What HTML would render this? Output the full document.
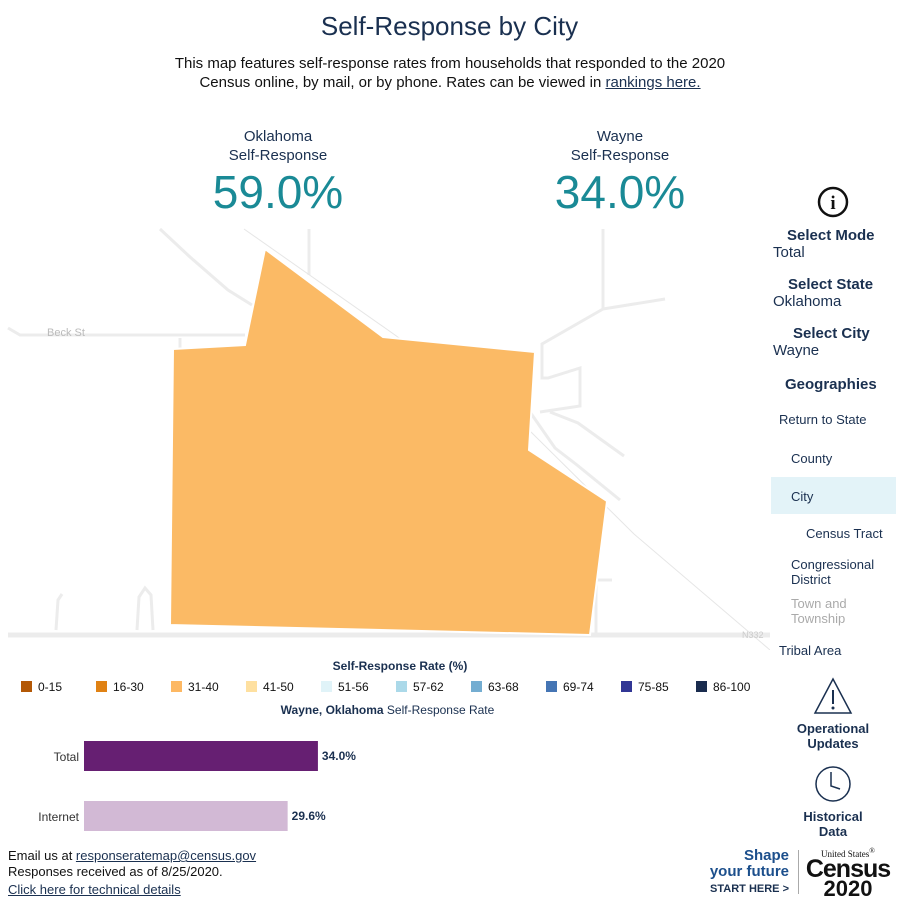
<!DOCTYPE html>
<html><head><meta charset="utf-8"><style>
body{margin:0;width:899px;height:899px;background:#fff;font-family:"Liberation Sans",sans-serif;color:#1a3050;position:relative;overflow:hidden}
.a{position:absolute}
.t{text-align:center}
u{text-decoration:underline}
.side{position:absolute;left:773px;font-size:15px}
.sb{font-weight:bold;font-size:15px}
.geo{position:absolute;font-size:13px}
</style></head><body>
<div class="a t" style="left:0;width:899px;top:11px;font-size:26px">Self-Response by City</div>
<div class="a t" style="left:100px;width:700px;top:54px;font-size:15px;line-height:19px;color:#111">This map features self-response rates from households that responded to the 2020<br>Census online, by mail, or by phone. Rates can be viewed in <u style="color:#1a3050">rankings here.</u></div>
<div class="a t" style="left:178px;width:200px;top:127px;font-size:15px;line-height:19px">Oklahoma<br>Self-Response</div>
<div class="a t" style="left:178px;width:200px;top:165px;font-size:46px;color:#1a8a96">59.0%</div>
<div class="a t" style="left:520px;width:200px;top:127px;font-size:15px;line-height:19px">Wayne<br>Self-Response</div>
<div class="a t" style="left:520px;width:200px;top:165px;font-size:46px;color:#1a8a96">34.0%</div>

<svg class="a" style="left:0;top:220px" width="770" height="430" viewBox="0 220 770 430">
<g fill="none" stroke="#ececec" stroke-width="3">
<polyline points="8,328 20,335 245,335"/>
<polyline points="160,229 190,257 228,290 252,305"/>
<line x1="309" y1="229" x2="309" y2="275"/>
<polyline points="603,229 603,309 665,299"/>
<polyline points="603,309 542,344 542,378 548,378 580,368 580,406 540,412"/>
<polyline points="550,412 578,423 624,456"/>
<polyline points="530,412 555,448 577,465 620,500"/>
<line x1="180" y1="350" x2="180" y2="338"/>
<line x1="8" y1="635" x2="770" y2="635" stroke-width="5"/>
<polyline points="56,630 58,600 62,594"/>
<polyline points="137,630 139,597 145,588 151,595 153,630"/>
<line x1="596" y1="580" x2="596" y2="635"/>
<line x1="596" y1="580" x2="612" y2="580"/>
</g>
<polyline points="244,229 395,335 531,432 634,534 770,650" fill="none" stroke="#e6e6e6" stroke-width="1"/>
<text x="47" y="336" font-size="11" fill="#bbb" font-family="Liberation Sans">Beck St</text>
<text x="742" y="638" font-size="9" fill="#ccc" font-family="Liberation Sans">N332</text>
<polygon points="265,249 383,337 535,352 529,450 607,501 590,635 170,625 173,349 245,345" fill="#fbba65" stroke="#fff" stroke-width="2"/>
</svg>

<svg class="a" style="left:817px;top:186px" width="32" height="32"><circle cx="16" cy="16" r="14" fill="none" stroke="#111" stroke-width="2.5"/><text x="16" y="23" text-anchor="middle" font-size="19" font-weight="bold" font-family="Liberation Serif" fill="#111">i</text></svg>
<div class="side" style="top:227px"><div class="sb" style="padding-left:14px">Select Mode</div><div>Total</div></div>
<div class="side" style="top:276px"><div class="sb" style="padding-left:15px">Select State</div><div>Oklahoma</div></div>
<div class="side" style="top:325px"><div class="sb" style="padding-left:20px">Select City</div><div>Wayne</div></div>
<div class="side sb" style="top:376px;left:785px">Geographies</div>
<div class="geo" style="left:779px;top:412px">Return to State</div>
<div class="geo" style="left:791px;top:451px">County</div>
<div class="a" style="left:771px;top:477px;width:125px;height:37px;background:#e3f3f8"></div>
<div class="geo" style="left:791px;top:489px">City</div>
<div class="geo" style="left:806px;top:526px">Census Tract</div>
<div class="geo" style="left:791px;top:557px;line-height:15px">Congressional<br>District</div>
<div class="geo" style="left:791px;top:596px;line-height:15px;color:#aaa">Town and<br>Township</div>
<div class="geo" style="left:779px;top:643px">Tribal Area</div>
<svg class="a" style="left:812px;top:676px" width="42" height="40"><polygon points="21,3 39,37 3,37" fill="none" stroke="#1a3050" stroke-width="1.5"/><line x1="21" y1="14" x2="21" y2="28" stroke="#1a3050" stroke-width="2"/><circle cx="21" cy="32" r="1.5" fill="#1a3050"/></svg>
<div class="a t sb" style="left:783px;width:100px;top:721px;font-size:13px;line-height:15px">Operational<br>Updates</div>
<svg class="a" style="left:813px;top:764px" width="40" height="40"><circle cx="20" cy="20" r="17" fill="none" stroke="#1a3050" stroke-width="1.5"/><polyline points="18,8 18,22 27,25" fill="none" stroke="#1a3050" stroke-width="1.5"/></svg>
<div class="a t sb" style="left:783px;width:100px;top:809px;font-size:13px;line-height:15px">Historical<br>Data</div>
<div class="a" style="left:708px;top:848px;text-align:right;width:81px;font-weight:bold;color:#1c4f8c;font-size:15px;line-height:16px">Shape<br>your future<br><span style="font-size:11px;color:#1a3050">START HERE &gt;</span></div>
<div class="a" style="left:798px;top:850px;width:1px;height:44px;background:#aaa"></div>
<div class="a t" style="left:805px;top:847px;width:86px;color:#111;line-height:1"><div style="font-family:'Liberation Serif';font-size:9px">United States<sup>®</sup></div><div style="font-weight:bold;font-size:25px;letter-spacing:-1px;margin-top:-2px">Census</div><div style="font-weight:bold;font-size:22px;margin-top:-4px">2020</div></div>

<div class="a t" style="left:270px;width:260px;top:659px;font-size:12px;font-weight:bold">Self-Response Rate (%)</div>
<div id="legend"></div>
<div class="a t" style="left:230px;width:315px;top:703px;font-size:12px"><b>Wayne, Oklahoma</b> Self-Response Rate</div>
<svg id="bars" class="a" style="left:0;top:730px" width="450" height="110"></svg>

<div class="a" style="left:8px;top:848px;font-size:13px;line-height:16px;color:#111">Email us at <u style="color:#1a3050">responseratemap@census.gov</u><br>Responses received as of 8/25/2020.<br><div style="margin-top:2px"><u style="color:#1a3050">Click here for technical details</u></div></div>

<script>
const legendLabels=["0-15","16-30","31-40","41-50","51-56","57-62","63-68","69-74","75-85","86-100"];
const legendColors=["#b35806","#e08214","#fdb863","#fee0a0","#e0f3f8","#abd9e9","#74add1","#4575b4","#313695","#1a2c4e"];
const barCategories=["Total","Internet"];
const barValues=[34.0,29.6];
const barColors=["#661f72","#d2b9d5"];
const lg=document.getElementById('legend');
legendLabels.forEach((l,i)=>{
  const d=document.createElement('div');
  d.className='a';
  d.style.cssText='left:'+(21+i*75)+'px;top:680px;font-size:12px;color:#111;white-space:nowrap';
  d.innerHTML='<span style="display:inline-block;width:11px;height:11px;background:'+legendColors[i]+';vertical-align:-1px;margin-right:6px"></span>'+l;
  
  
  lg.appendChild(d);
});
const svg=document.getElementById('bars');
const x0=84,pxPer=6.88;
const xs=v=>v*pxPer;
const ns='http://www.w3.org/2000/svg';
barCategories.forEach((c,i)=>{
  const y=11+i*60;
  const r=document.createElementNS(ns,'rect');
  r.setAttribute('x',x0);r.setAttribute('y',y);r.setAttribute('height',30);
  r.setAttribute('width',xs(barValues[i]));r.setAttribute('fill',barColors[i]);
  
  
  svg.appendChild(r);
  const t=document.createElementNS(ns,'text');
  t.setAttribute('x',x0-5);t.setAttribute('y',y+20);t.setAttribute('text-anchor','end');
  t.setAttribute('font-size','12');t.setAttribute('fill','#333');t.setAttribute('font-family','Liberation Sans');
  t.textContent=c;
  
  
  svg.appendChild(t);
  const v=document.createElementNS(ns,'text');
  v.setAttribute('x',x0+xs(barValues[i])+4);v.setAttribute('y',y+19);
  v.setAttribute('font-size','12');v.setAttribute('font-weight','bold');v.setAttribute('fill','#1a3050');v.setAttribute('font-family','Liberation Sans');
  v.textContent=barValues[i].toFixed(1)+'%';
  
  
  svg.appendChild(v);
});
</script>
</body></html>
